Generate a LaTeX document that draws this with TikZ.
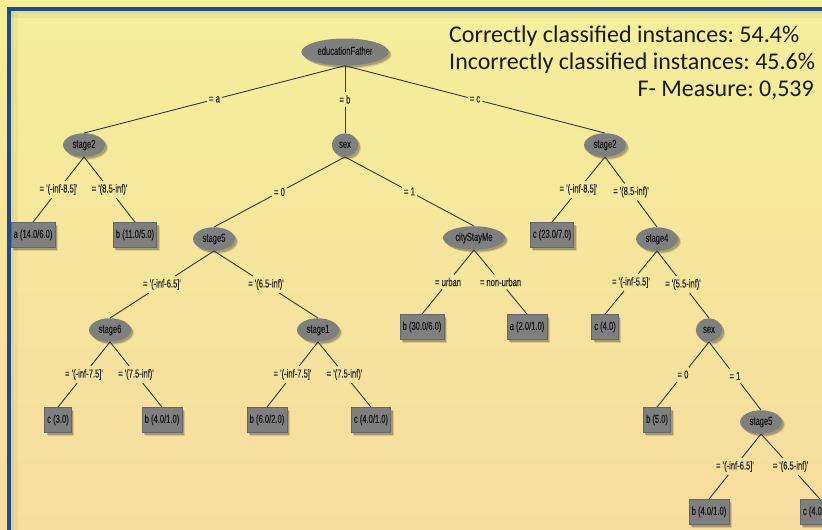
\documentclass[tikz,border=0pt]{standalone}
\usepackage{fontspec}
\setmainfont{Liberation Sans}
\newfontfamily\narrowf[FakeStretch=0.66,FakeBold=0.6,Ligatures=TeXOff]{Liberation Sans}
\newfontfamily\calib{Carlito}
\usetikzlibrary{shapes.geometric,shadows}
\definecolor{bgtop}{HTML}{F5EF9A}
\definecolor{bgbot}{HTML}{F7DCA0}
\definecolor{framec}{HTML}{1E4B8F}
\definecolor{nodegray}{HTML}{7F7F7F}
\definecolor{boxedge}{HTML}{666666}
\definecolor{linec}{HTML}{363636}
\definecolor{txtc}{HTML}{181818}
\tikzset{
  softshadow/.style={
    drop shadow={shadow xshift=3pt,shadow yshift=-3pt,opacity=0.12,fill=black},
    drop shadow={shadow xshift=2pt,shadow yshift=-2pt,opacity=0.22,fill=black}},
  treefont/.style={font=\narrowf\fontsize{11.5}{13}\selectfont, text=txtc},
  inner/.style={ellipse, fill=nodegray, treefont, inner xsep=3.4pt, inner ysep=3.2pt,
    text height=8pt, text depth=2.2pt, softshadow},
  leaf/.style={rectangle, fill=nodegray, draw=boxedge, line width=0.8pt, treefont,
    minimum height=25pt, inner xsep=2.6pt, text height=8pt, text depth=2.2pt, softshadow},
  lab/.style={treefont, text=linec!80!black, inner xsep=2pt, inner ysep=3pt},
  edge/.style={draw=linec, line width=0.9pt},
  stat/.style={font=\calib\fontsize{24}{29}\selectfont\frenchspacing, text=black!90, inner sep=0pt}
}
\newcommand\treeedge[3]{%
  \path (#1.south) -- node[lab] (#1-#2) {#3} (#2.north);
  \draw[edge] (#1.south) -- (#1-#2) (#1-#2) -- (#2.north);}
\begin{document}
\begin{tikzpicture}[x=1pt,y=-1pt]
\useasboundingbox (0,0) rectangle (822,530);
\clip (0,0) rectangle (822,530);
% background
\shade[top color=bgtop, bottom color=bgbot] (0,0) rectangle (822,530);
% inner shadow of frame
\fill[black,opacity=0.07] (10.5,10.5) rectangle (822,14);
\fill[black,opacity=0.04] (10.5,14) rectangle (822,18);
\fill[black,opacity=0.07] (10.5,10.5) rectangle (14,530);
\fill[black,opacity=0.04] (14,14) rectangle (18,530);
% frame
\draw[framec, line width=3.2pt] (9,535) -- (9,9) -- (830,9);

% statistics
\node[stat, anchor=base west] (sta) at (449,42) {Correctly classified instances: 54.4\%};
\node[stat, anchor=base west] (stb) at (449,69) {Incorrectly classified instances: 45.6\%};
\node[stat, anchor=base east] (stc) at (814,96) {F- Measure: 0,539};

% nodes
\node[inner, minimum height=27pt] (root) at (345,52) {educationFather};
\node[inner] (s2L) at (84,145) {stage2};
\node[inner] (sexA) at (345,145) {sex};
\node[inner] (s2R) at (605,145) {stage2};

\node[leaf] (aL) at (33,235) {a (14.0/6.0)};
\node[leaf] (bL) at (135,235) {b (11.0/5.0)};
\node[inner] (st5) at (214,239) {stage5};
\node[inner] (city) at (474,238) {cityStayMe};
\node[leaf] (cR) at (552,235) {c (23.0/7.0)};
\node[inner] (st4) at (657,239) {stage4};

\node[inner] (st6) at (110,330) {stage6};
\node[inner] (st1) at (318,330) {stage1};
\node[leaf] (b30) at (422,327) {b (30.0/6.0)};
\node[leaf] (a2) at (527,327) {a (2.0/1.0)};
\node[leaf] (c4) at (605,327) {c (4.0)};
\node[inner] (sexB) at (709,330) {sex};

\node[leaf] (c3) at (58,420) {c (3.0)};
\node[leaf] (b41) at (162,420) {b (4.0/1.0)};
\node[leaf] (b62) at (267,420) {b (6.0/2.0)};
\node[leaf] (c41) at (371,420) {c (4.0/1.0)};
\node[leaf] (b5) at (657,420) {b (5.0)};
\node[inner] (st5b) at (761,422) {stage5};

\node[leaf] (b41b) at (709,512) {b (4.0/1.0)};
\node[leaf] (c41b) at (820,512) {c (4.0/1.0)};

% edges
\treeedge{root}{s2L}{= a}
\treeedge{root}{sexA}{= b}
\treeedge{root}{s2R}{= c}
\treeedge{s2L}{aL}{= '(-inf-8.5]'}
\treeedge{s2L}{bL}{= '(8.5-inf)'}
\treeedge{sexA}{st5}{= 0}
\treeedge{sexA}{city}{= 1}
\treeedge{s2R}{cR}{= '(-inf-8.5]'}
\treeedge{s2R}{st4}{= '(8.5-inf)'}
\treeedge{st5}{st6}{= '(-inf-6.5]'}
\treeedge{st5}{st1}{= '(6.5-inf)'}
\treeedge{city}{b30}{= urban}
\treeedge{city}{a2}{= non-urban}
\treeedge{st4}{c4}{= '(-inf-5.5]'}
\treeedge{st4}{sexB}{= '(5.5-inf)'}
\treeedge{st6}{c3}{= '(-inf-7.5]'}
\treeedge{st6}{b41}{= '(7.5-inf)'}
\treeedge{st1}{b62}{= '(-inf-7.5]'}
\treeedge{st1}{c41}{= '(7.5-inf)'}
\treeedge{sexB}{b5}{= 0}
\treeedge{sexB}{st5b}{= 1}
\treeedge{st5b}{b41b}{= '(-inf-6.5]'}
\treeedge{st5b}{c41b}{= '(6.5-inf)'}
\end{tikzpicture}
\end{document}
